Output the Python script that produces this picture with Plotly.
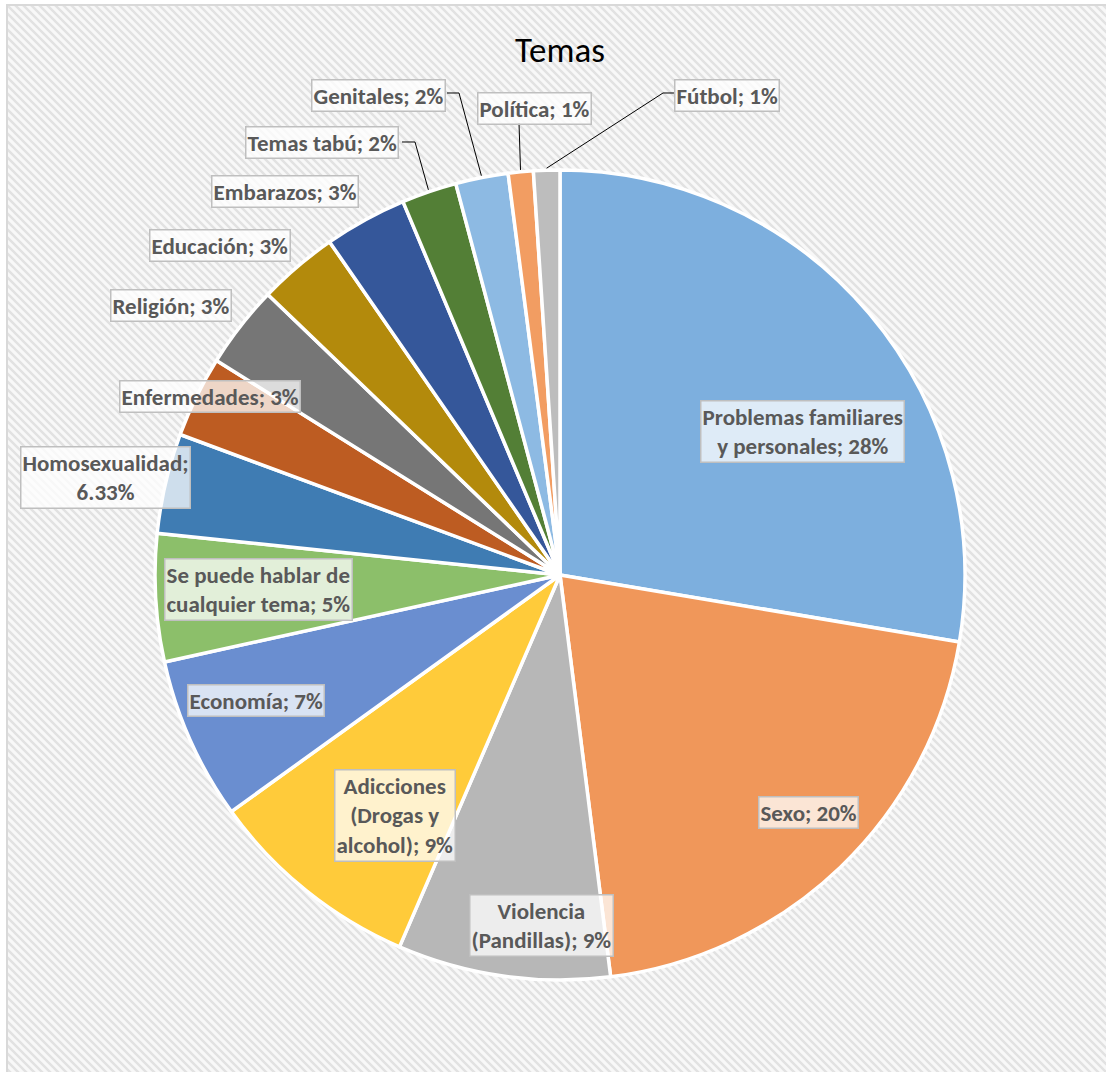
import math
import base64
import plotly.graph_objects as go

# ---------------- data ----------------
categories = [
    "Problemas familiares y personales", "Sexo", "Violencia (Pandillas)",
    "Adicciones (Drogas y alcohol)", "Economía", "Se puede hablar de cualquier tema",
    "Homosexualidad", "Enfermedades", "Religión", "Educación", "Embarazos",
    "Temas tabú", "Genitales", "Política", "Fútbol",
]
values = [27.7, 20.4, 8.5, 8.6, 6.5, 5.1, 4.0, 3.25, 3.3, 3.2, 3.3, 2.2, 2.1, 1.0, 1.05]
pct_labels = ["28%", "20%", "9%", "9%", "7%", "5%", "6.33%", "3%", "3%", "3%", "3%",
              "2%", "2%", "1%", "1%"]

# ---------------- style / layout ----------------
W, H = 1106, 1072
CX, CY, R = 560, 575, 405
colors = ["#7DAFDE", "#F0975A", "#B7B7B7", "#FFCB3A", "#6A8ED0", "#8CBF6A", "#3F7CB3",
          "#BD5C22", "#767676", "#B38A0C", "#35579A", "#537F36", "#8DBAE3", "#F29D62",
          "#BDBDBD"]
# label box centres (px) and wrap widths (chars, 0 = no wrap)
label_pos = [(802, 431), (808, 812), (541, 925), (395, 815), (256, 700), (258, 589),
             (105, 477), (210, 397), (171, 306), (220, 246), (285, 192), (322, 142),
             (378, 95), (534, 108), (727, 95)]
wrap_w = [20, 0, 15, 12, 0, 18, 15, 0, 0, 0, 0, 0, 0, 0, 0]
# leader lines: index -> list of elbow points (px) starting at label box
leaders = {
    11: [(402, 142), (415, 142)],
    12: [(447, 93), (459, 93)],
    13: [(519, 123)],
    14: [(674, 93), (663, 93)],
}
FONT = "Carlito, Lato, sans-serif"
TXT = "#595959"


def wrap(text, width):
    if not width:
        return text
    lines, cur = [], ""
    for w in text.split(" "):
        if cur and len(cur) + 1 + len(w) > width:
            lines.append(cur)
            cur = w
        else:
            cur = (cur + " " + w) if cur else w
    lines.append(cur)
    return "<br>".join(lines)


def px(x, y):
    return x / W, 1 - y / H


fig = go.Figure()
fig.add_trace(go.Pie(
    labels=categories, values=values, sort=False, direction="clockwise", rotation=0,
    marker=dict(colors=colors, line=dict(color="white", width=3.5)),
    textinfo="none", showlegend=False,
    domain=dict(x=[(CX - R) / W, (CX + R) / W], y=[1 - (CY + R) / H, 1 - (CY - R) / H]),
    hovertemplate="%{label}: %{value}<extra></extra>",
))

annotations = []
for i, cat in enumerate(categories):
    x, y = px(*label_pos[i])
    annotations.append(dict(
        x=x, y=y, xref="paper", yref="paper", xanchor="center", yanchor="middle",
        text="<b>" + wrap(f"{cat}; {pct_labels[i]}", wrap_w[i]) + "</b>",
        showarrow=False, align="center",
        font=dict(family=FONT, size=23, color=TXT),
        bgcolor="rgba(255,255,255,0.75)", bordercolor="#BFBFBF", borderwidth=1.5, borderpad=1,
    ))

shapes = []
total = sum(values)
cum = 0.0
mids = []
for v in values:
    mids.append((cum + v / 2) / total * 2 * math.pi)
    cum += v
for i, pts in leaders.items():
    a = mids[i]
    ex, ey = CX + (R + 2) * math.sin(a), CY - (R + 2) * math.cos(a)
    allp = pts + [(ex, ey)]
    path = "M " + " L ".join(f"{px(x, y)[0]:.5f},{px(x, y)[1]:.5f}" for x, y in allp)
    shapes.append(dict(type="path", path=path, xref="paper", yref="paper",
                       line=dict(color="black", width=1)))

# chart-area border
shapes.append(dict(type="rect", xref="paper", yref="paper", x0=7 / W, y0=-0.02,
                   x1=1.02, y1=1 - 5 / H, line=dict(color="#D9D9D9", width=2),
                   layer="below"))

svg = ("<svg xmlns='http://www.w3.org/2000/svg' width='1099' height='1067'><defs>"
       "<pattern id='p' width='8' height='8' patternUnits='userSpaceOnUse'>"
       "<rect width='8' height='8' fill='#F8F8F8'/>"
       "<path d='M-2,-2 L10,10 M-2,6 L2,10 M6,-2 L10,2' stroke='#E2E2E2' stroke-width='2.4'/>"
       "</pattern></defs><rect width='100%' height='100%' fill='url(#p)'/></svg>")
src = "data:image/svg+xml;base64," + base64.b64encode(svg.encode()).decode()

fig.update_layout(
    width=W, height=H, margin=dict(l=0, r=0, t=0, b=0),
    paper_bgcolor="white", plot_bgcolor="white",
    title=dict(text="Temas", x=CX / W, y=1 - 50 / H, xanchor="center", yanchor="middle",
               font=dict(family=FONT, size=35, color="black")),
    annotations=annotations, shapes=shapes,
    images=[dict(source=src, xref="paper", yref="paper", x=7 / W, y=1 - 5 / H,
                 sizex=(W - 7) / W, sizey=(H - 5) / H, xanchor="left", yanchor="top",
                 sizing="stretch", layer="below")],
)

fig.write_html("out.html")
